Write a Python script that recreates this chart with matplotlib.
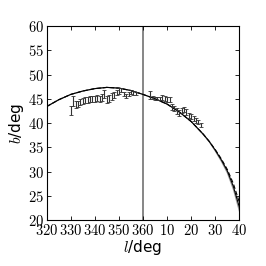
import matplotlib
matplotlib.use("Agg")
import matplotlib.pyplot as plt
import numpy as np

plt.rcParams['mathtext.fontset'] = 'cm'

# data (l in degrees, values >360 mean l-360)
left_l = [330, 331, 332, 333, 334, 335, 336, 337, 338, 339, 340, 341, 342, 343,
          344, 345, 346, 347, 348, 349, 350, 351, 352, 353, 354, 355, 356, 357]
left_b = [42.6, 44.5, 43.8, 44.0, 44.4, 44.6, 44.7, 44.8, 44.9, 45.0, 44.9, 45.1, 45.0, 45.2,
          46.0, 44.8, 45.0, 45.4, 45.8, 46.3, 46.6, 46.8, 46.0, 45.6, 46.0, 46.4, 46.2, 46.1]
left_e = [1.0, 1.0, 0.7, 0.6, 0.6, 0.6, 0.6, 0.6, 0.6, 0.6, 0.6, 0.6, 0.6, 0.7,
          0.9, 0.7, 0.7, 0.7, 0.7, 0.6, 0.6, 0.5, 0.5, 0.4, 0.4, 0.4, 0.4, 0.4]

right_l = [363, 364, 365, 366, 367, 368, 369, 370, 371, 372, 373, 374, 375, 376,
           377, 378, 379, 380, 381, 382, 383, 384]
right_b = [45.8, 45.2, 45.0, 45.1, 45.0, 45.2, 45.0, 44.9, 44.8, 43.3, 43.0, 42.5, 42.1, 42.6,
           42.8, 42.3, 41.6, 41.3, 41.0, 40.5, 40.2, 39.6]
right_e = [0.9, 0.3, 0.3, 0.3, 0.3, 0.5, 0.5, 0.5, 0.5, 0.6, 0.6, 0.6, 0.6, 0.6,
           0.6, 0.6, 0.5, 0.5, 0.5, 0.5, 0.5, 0.5]

curve_l = [320, 325, 330, 335, 340, 345, 350, 355, 360, 365, 370, 375, 380, 385,
           387.5, 390, 392.5, 395, 397.5, 400]
curve_a = [43.4, 44.8, 45.9, 46.6, 47.1, 47.35, 47.2, 46.7, 45.9, 45.0, 43.9, 42.3, 40.3, 37.7,
           36.2, 34.4, 32.4, 30.1, 26.9, 22.6]
curve_b = [43.4, 44.8, 45.9, 46.6, 47.1, 47.35, 47.2, 46.7, 45.9, 45.0, 43.9, 42.3, 40.3, 37.7,
           36.2, 34.5, 32.6, 30.4, 27.5, 23.6]
curve_c = [43.4, 44.8, 45.9, 46.6, 47.1, 47.35, 47.2, 46.7, 45.9, 45.0, 43.9, 42.3, 40.3, 37.6,
           36.1, 34.2, 32.1, 29.7, 26.3, 21.8]

xticks = [320, 330, 340, 350, 360, 370, 380, 390, 400]
xticklabels = ['320', '330', '340', '350', '360', '10', '20', '30', '40']
yticks = [20, 25, 30, 35, 40, 45, 50, 55, 60]

fig = plt.figure(figsize=(2.66, 2.66), dpi=100)
ax = fig.add_axes([0.1755, 0.173, 0.7245, 0.729])

ax.axvline(360, color='#666666', lw=1.1, zorder=1)
ax.plot(curve_l, curve_c, color='#999999', lw=0.8, zorder=2)
ax.plot(curve_l, curve_a, color='black', lw=0.8, zorder=3)
ax.plot(curve_l, curve_b, color='black', lw=0.8, ls=(0, (4, 2)), zorder=3)

ax.errorbar(left_l, left_b, yerr=left_e, fmt='none', ecolor='#333333', elinewidth=0.8,
            capsize=1.2, capthick=0.6, zorder=4)
ax.errorbar(right_l, right_b, yerr=right_e, fmt='none', ecolor='#333333', elinewidth=0.8,
            capsize=1.2, capthick=0.6, zorder=4)

ax.set_xlim(320, 400)
ax.set_ylim(20, 60)
ax.set_xticks(xticks)
ax.set_xticklabels(['$%s$' % t for t in xticklabels], fontsize=10.5)
ax.set_yticks(yticks)
ax.set_yticklabels(['$%d$' % t for t in yticks], fontsize=10.5)
ax.tick_params(direction='in', top=True, right=True, length=3, width=0.6, pad=2)
for s in ax.spines.values():
    s.set_linewidth(0.8)

ax.set_xlabel('$l$/deg', fontsize=11, labelpad=0)
ax.set_ylabel('$b$/deg', fontsize=11, labelpad=1)

fig.savefig('out.png', dpi=100)
